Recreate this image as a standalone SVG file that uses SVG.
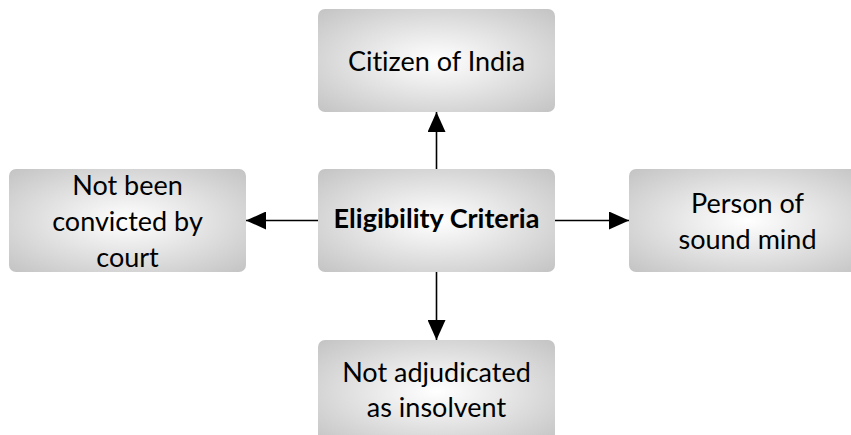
<svg xmlns="http://www.w3.org/2000/svg" width="851" height="435" viewBox="0 0 851 435">
<defs>
<radialGradient id="g" cx="0.5" cy="0.5" r="0.72">
<stop offset="0" stop-color="#ffffff"/>
<stop offset="0.35" stop-color="#eaeaea"/>
<stop offset="1" stop-color="#c2c2c2"/>
</radialGradient>
<marker id="ah" viewBox="0 0 20 18" refX="20" refY="9" markerWidth="20" markerHeight="18" markerUnits="userSpaceOnUse" orient="auto">
<path d="M0,0 L20,9 L0,18 Z" fill="#000"/>
</marker>
</defs>
<style>
.box{fill:url(#g);}
.t{font-family:Lato,"Open Sans","Liberation Sans",sans-serif;font-size:27px;fill:#000;text-anchor:middle;font-variant-ligatures:none;}
.b{font-weight:bold;}
.c{stroke:#000;stroke-width:1.6;fill:none;marker-end:url(#ah);}
</style>
<rect width="851" height="435" fill="#fff"/>
<g id="connectors">
<line class="c" x1="436.5" y1="169" x2="436.5" y2="112"/>
<line class="c" x1="318" y1="220.5" x2="246" y2="220.5"/>
<line class="c" x1="555" y1="220.5" x2="629" y2="220.5"/>
<line class="c" x1="436.5" y1="272" x2="436.5" y2="340"/>
</g>
<g id="center">
<rect class="box" x="318" y="169" width="237" height="103" rx="7"/>
<text class="t b" x="436.5" y="228">Eligibility Criteria</text>
</g>
<g id="top">
<rect class="box" x="318" y="9" width="237" height="103" rx="7"/>
<text class="t" x="436.5" y="71">Citizen of India</text>
</g>
<g id="left">
<rect class="box" x="9" y="169" width="237" height="103" rx="7"/>
<text class="t" x="127.5" y="195">Not been</text>
<text class="t" x="127.5" y="231">convicted by</text>
<text class="t" x="127.5" y="267">court</text>
</g>
<g id="right">
<rect class="box" x="629" y="169" width="237" height="103" rx="7"/>
<text class="t" x="747.5" y="213">Person of</text>
<text class="t" x="747.5" y="249">sound mind</text>
</g>
<g id="bottom">
<rect class="box" x="318" y="340" width="237" height="103" rx="7"/>
<text class="t" x="436.5" y="382">Not adjudicated</text>
<text class="t" x="436.5" y="417">as insolvent</text>
</g>
</svg>
